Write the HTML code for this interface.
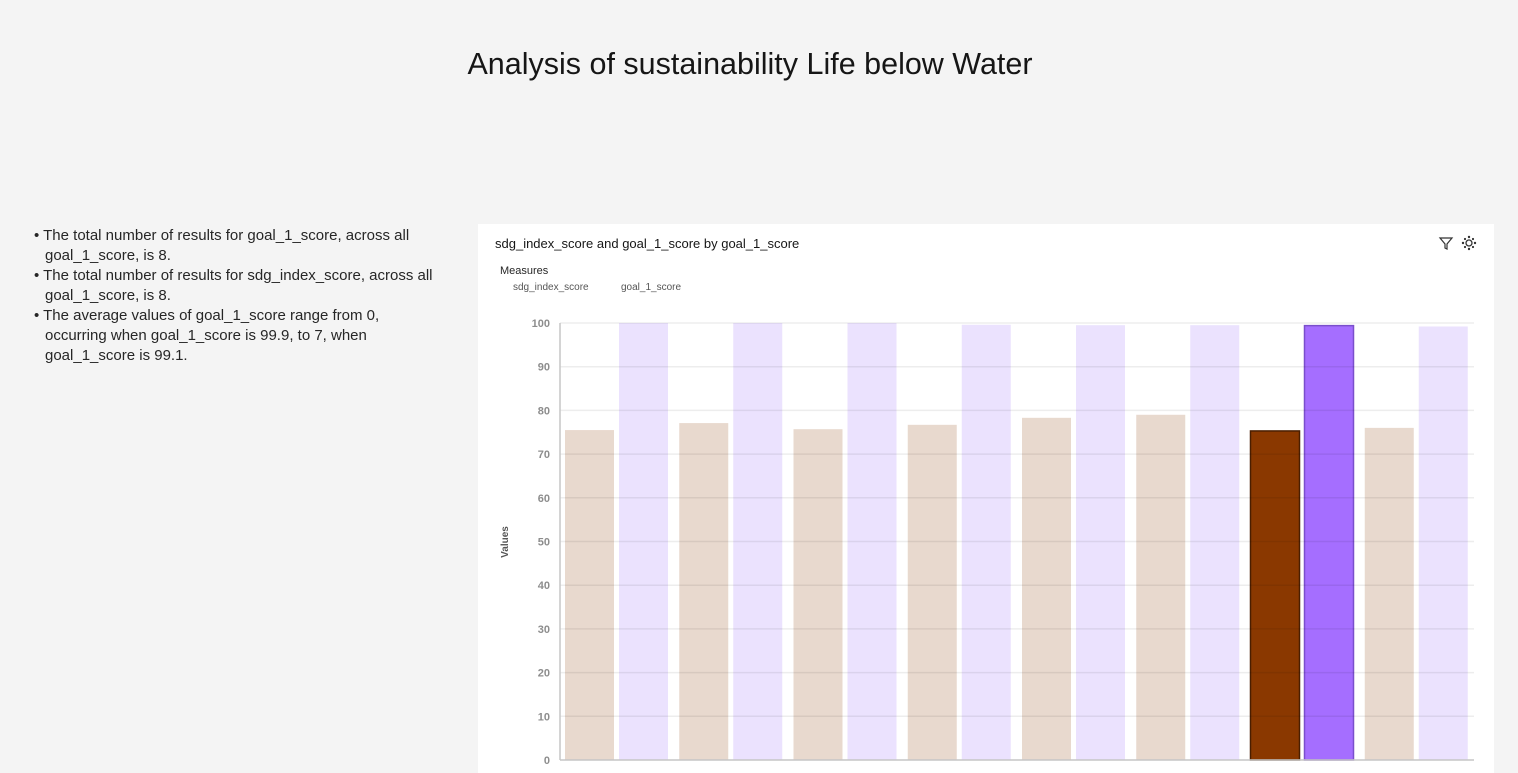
<!DOCTYPE html>
<html><head><meta charset="utf-8">
<style>
body{margin:0;width:1518px;height:773px;background:#f4f4f4;font-family:"Liberation Sans",sans-serif;overflow:hidden;position:relative}
#title{position:absolute;top:47px;left:0;width:1500px;text-align:center;font-size:30.5px;color:#161616;font-weight:300}
#summary{position:absolute;left:34px;top:226px;width:408px;font-size:15px;color:#262626;line-height:20px;margin:0;padding:0;list-style:none}
#summary li{padding-left:11px;text-indent:-11px}
#panel{position:absolute;left:478px;top:224px;width:1016px;height:549px;background:#fff}
</style></head><body>
<div id="title">Analysis of sustainability Life below Water</div>
<ul id="summary">
<li>• The total number of results for goal_1_score, across all goal_1_score, is 8.</li>
<li>• The total number of results for sdg_index_score, across all goal_1_score, is 8.</li>
<li>• The average values of goal_1_score range from 0, occurring when goal_1_score is 99.9, to 7, when goal_1_score is 99.1.</li>
</ul>
<div id="panel">
<svg id="chart" width="1016" height="549" style="position:absolute;left:0;top:0;font-family:'Liberation Sans',sans-serif">
<text x="17" y="24" font-size="13" fill="#161616">sdg_index_score and goal_1_score by goal_1_score</text>
<g stroke="#333" fill="none" stroke-width="1.2"><path d="M962 14 L974 14 L969 20 L969 25 L967 24 L967 20 Z"/></g>
<g fill="#333"><circle cx="991" cy="19" r="3" fill="none" stroke="#333" stroke-width="1.3"/><circle cx="991" cy="13" r="1.2"/><circle cx="991" cy="25" r="1.2"/><circle cx="985" cy="19" r="1.2"/><circle cx="997" cy="19" r="1.2"/><circle cx="987" cy="15" r="1.1"/><circle cx="995" cy="15" r="1.1"/><circle cx="987" cy="23" r="1.1"/><circle cx="995" cy="23" r="1.1"/></g>
<text x="22" y="50" font-size="11" fill="#262626">Measures</text>
<text x="35" y="66" font-size="10" fill="#555">sdg_index_score</text>
<text x="143" y="66" font-size="10" fill="#555">goal_1_score</text>
<text x="30" y="318" font-size="10" fill="#555" font-weight="bold" transform="rotate(-90 30 318)" text-anchor="middle">Values</text>
<g id="bars"></g><g id="grid"></g><g id="axes"></g>
</svg>
</div>
<script>
const categories=["c1","c2","c3","c4","c5","c6","c7","c8"];
const sdgValues=[75.5,77.1,75.7,76.7,78.3,79.0,75.3,76.0];
const goal1Values=[100,100,100,99.6,99.5,99.5,99.4,99.2];
const yTicks=[0,10,20,30,40,50,60,70,80,90,100];
const highlightIndex=6;
const NS="http://www.w3.org/2000/svg";
const x0=82,x1=996,yBase=536,yTop=99;
function yScale(v){return yBase-(v/100)*(yBase-yTop);}
const gw=(x1-x0)/categories.length;
function mk(t,a,p){const e=document.createElementNS(NS,t);for(const k in a)e.setAttribute(k,a[k]);p.appendChild(e);return e;}
const bars=document.getElementById('bars'),grid=document.getElementById('grid'),axes=document.getElementById('axes');
categories.forEach((c,i)=>{
  const gx=x0+i*gw;const hi=i===highlightIndex;
  const r1=mk('rect',{x:gx+5,y:yScale(sdgValues[i]),width:49,height:yBase-yScale(sdgValues[i]),fill:hi?'#8a3800':'#e8d9ce',stroke:hi?'#4a1e00':'none','stroke-width':1.5},bars);
  
  
  const r2=mk('rect',{x:gx+59,y:yScale(goal1Values[i]),width:49,height:yBase-yScale(goal1Values[i]),fill:hi?'#a56eff':'#ebe2fe',stroke:hi?'#7a4fcc':'none','stroke-width':1.5},bars);
  
  
});
yTicks.forEach(t=>{
  const y=yScale(t);
  if(t>0){const l=mk('line',{x1:x0,x2:x1,y1:y,y2:y,stroke:'rgba(0,0,0,0.07)','stroke-width':1.5},grid);
  
  }
  const tx=mk('text',{x:x0-10,y:y+4,'text-anchor':'end','font-size':11,fill:'#8d8d8d','font-weight':'bold'},axes);
  tx.textContent=t;
  
  
});
const ya=mk('line',{x1:x0,x2:x0,y1:yTop,y2:yBase,stroke:'#c6c6c6','stroke-width':1.5},axes);


const xa=mk('line',{x1:x0,x2:x1,y1:yBase,y2:yBase,stroke:'#c6c6c6','stroke-width':1.5},axes);


</script>
</body></html>
